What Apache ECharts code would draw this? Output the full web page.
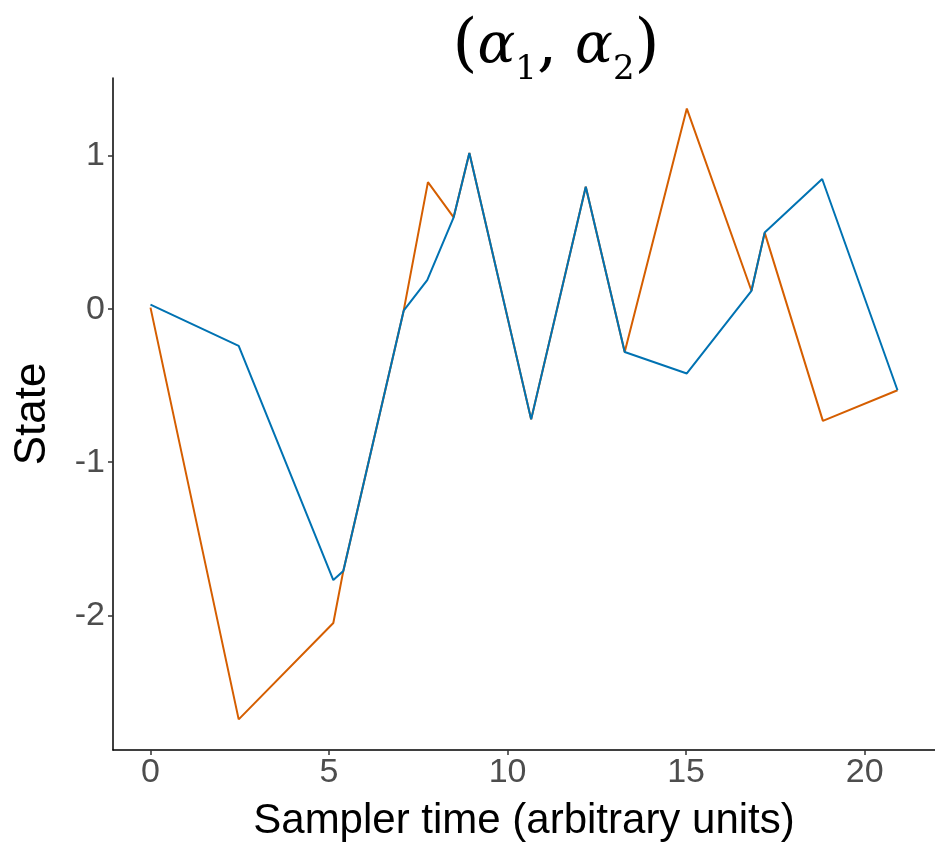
<!DOCTYPE html>
<html>
<head>
<meta charset="utf-8">
<script src="https://cdn.jsdelivr.net/npm/echarts@6/dist/echarts.min.js"></script>
<style>
  html, body { margin: 0; padding: 0; background: #fff; }
  #chart { width: 935px; height: 844px; }
</style>
</head>
<body>
<div id="chart"></div>
<script>
// alpha_1 (orange) and alpha_2 (blue) sampler traces
var alpha1X = [0, 2.47, 5.12, 5.40, 7.09, 7.77, 8.49, 8.93, 10.66, 12.19, 13.28, 15.02, 16.83, 17.20, 18.83, 20.92];
var alpha1Y = [0.01, -2.68, -2.05, -1.71, -0.01, 0.83, 0.60, 1.02, -0.72, 0.80, -0.28, 1.31, 0.12, 0.50, -0.73, -0.53];

var alpha2X = [0, 2.47, 5.12, 5.40, 7.09, 7.75, 8.49, 8.93, 10.66, 12.19, 13.28, 15.02, 16.83, 17.20, 18.81, 20.92];
var alpha2Y = [0.03, -0.24, -1.77, -1.71, -0.01, 0.19, 0.60, 1.02, -0.72, 0.80, -0.28, -0.42, 0.12, 0.50, 0.85, -0.53];

var xTicks = [0, 5, 10, 15, 20];
var yTicks = [-2, -1, 0, 1];

function pairs(xs, ys) {
  return xs.map(function (x, i) { return [x, ys[i]]; });
}

var chart = echarts.init(document.getElementById('chart'));

chart.setOption({
  animation: false,
  backgroundColor: '#fff',
  title: {
    text: '{p|(}{a|α}{s|1}{p|,}{a| α}{s|2}{p|)}',
    left: 551,
    top: 2,
    textAlign: 'center',
    textStyle: {
      fontWeight: 'normal',
      rich: {
        p: { fontFamily: 'DejaVu Serif', fontWeight: 'normal', fontSize: 64, color: '#000', lineHeight: 80 },
        a: { fontFamily: 'DejaVu Serif', fontWeight: 'normal', fontStyle: 'italic', fontSize: 56, color: '#000', lineHeight: 80 },
        s: { fontFamily: 'DejaVu Serif', fontWeight: 'normal', fontSize: 34, color: '#000', lineHeight: 80, verticalAlign: 'bottom', padding: [20, 0, 0, 0] }
      }
    }
  },
  grid: { left: 113, right: 0, top: 78, bottom: 94, outerBoundsMode: 'none' },
  xAxis: {
    type: 'value',
    min: -1.05,
    max: 21.97,
    name: 'Sampler time (arbitrary units)',
    nameLocation: 'middle',
    nameGap: 50,
    nameTextStyle: { fontFamily: 'Liberation Sans', fontSize: 42, color: '#000' },
    splitLine: { show: false },
    axisLine: { onZero: false, lineStyle: { color: '#000', width: 1.5 } },
    axisTick: { show: true, customValues: xTicks, length: 5, lineStyle: { color: '#333', width: 1.5 } },
    axisLabel: { customValues: xTicks, fontFamily: 'Liberation Sans', fontSize: 34, color: '#4d4d4d', margin: 6 }
  },
  yAxis: {
    type: 'value',
    min: -2.88,
    max: 1.51,
    name: 'State',
    nameLocation: 'middle',
    nameRotate: 90,
    nameGap: 58,
    nameTextStyle: { fontFamily: 'Liberation Sans', fontSize: 44, color: '#000' },
    splitLine: { show: false },
    axisLine: { show: true, onZero: false, lineStyle: { color: '#000', width: 1.5 } },
    axisTick: { show: true, customValues: yTicks, length: 5, lineStyle: { color: '#333', width: 1.5 } },
    axisLabel: { customValues: yTicks, fontFamily: 'Liberation Sans', fontSize: 34, color: '#4d4d4d', margin: 8 }
  },
  series: [
    {
      name: 'alpha1',
      type: 'line',
      data: pairs(alpha1X, alpha1Y),
      showSymbol: false,
      lineStyle: { color: '#D55E00', width: 2 },
      itemStyle: { color: '#D55E00' }
    },
    {
      name: 'alpha2',
      type: 'line',
      data: pairs(alpha2X, alpha2Y),
      showSymbol: false,
      lineStyle: { color: '#0072B2', width: 2 },
      itemStyle: { color: '#0072B2' }
    }
  ]
});
</script>
</body>
</html>
